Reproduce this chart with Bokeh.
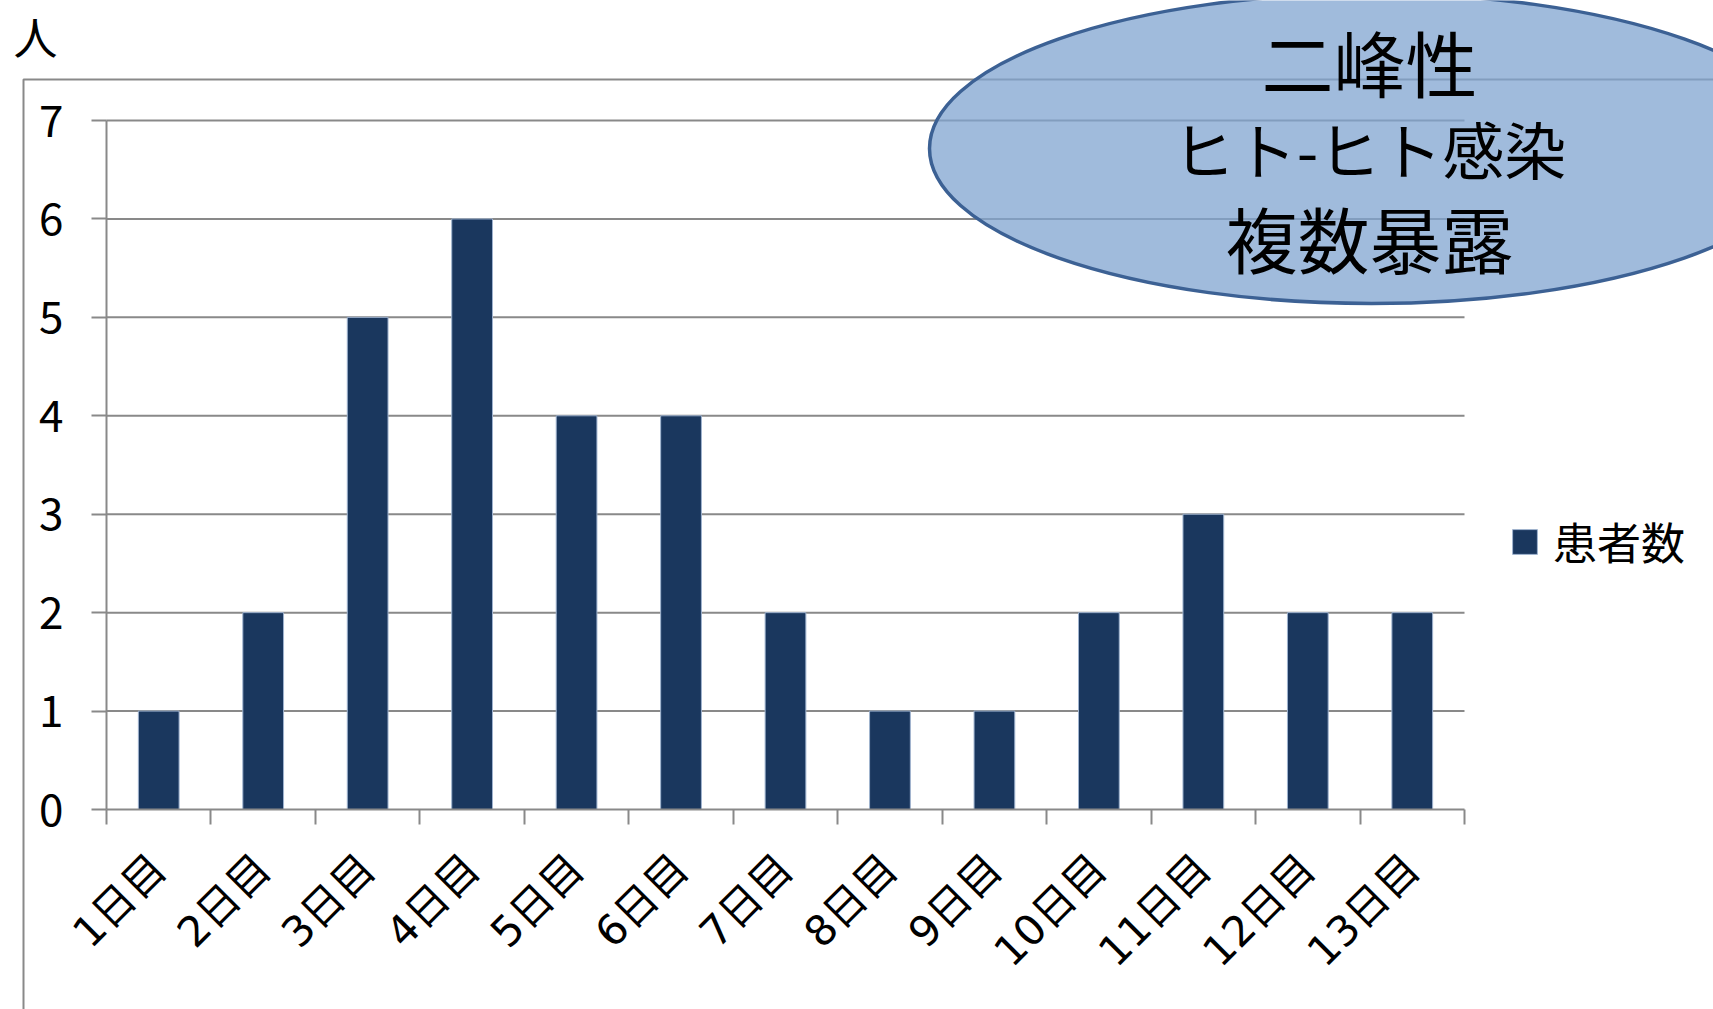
import math
from bokeh.plotting import figure
from bokeh.models import (Range1d, LinearAxis, FixedTicker, Label, Legend,
                          LegendItem, ColumnDataSource, Grid)
from bokeh.embed import file_html
from bokeh.resources import INLINE

# ---------------- data ----------------
categories = ["1日目", "2日目", "3日目", "4日目", "5日目", "6日目", "7日目",
              "8日目", "9日目", "10日目", "11日目", "12日目", "13日目"]
patients = [1, 2, 5, 6, 4, 4, 2, 1, 1, 2, 3, 2, 2]
y_ticks = [0, 1, 2, 3, 4, 5, 6, 7]
series_name = "患者数"
y_unit = "人"
note_lines = ["二峰性", "ヒト-ヒト感染", "複数暴露"]

# ---------------- layout (pixels) ----------------
W, H = 1713, 1009
X_LEFT, X_RIGHT = 106, 1464      # plot area horizontal extent
Y_ZERO, Y_TOP = 809, 120         # pixel rows of 0 and max tick
n = len(categories)
CW = (X_RIGHT - X_LEFT) / n
UH = (Y_ZERO - Y_TOP) / max(y_ticks)


def dx(px):
    return (px - X_LEFT) / CW


def dy(py):
    return (Y_ZERO - py) / UH


FONT = "Noto Sans CJK JP"
XFONT = "DejaVu Sans, Noto Sans CJK JP"
GRAY = "#898989"

p = figure(width=W, height=H,
           x_range=Range1d(dx(0), dx(W)), y_range=Range1d(dy(H), dy(0)),
           output_backend="svg", toolbar_location=None,
           x_axis_location=None, y_axis_location=None,
           min_border=0, outline_line_color=None,
           background_fill_color="white", border_fill_color="white")
for r in list(p.center):
    if isinstance(r, Grid):
        r.visible = False

# outer chart-area frame (runs off right and bottom edges)
p.line(x=[dx(W + 10), dx(23), dx(23)], y=[dy(79), dy(79), dy(H + 10)],
       line_color=GRAY, line_width=2)

# horizontal gridlines across the plot area
grid_vals = y_ticks[1:]
p.segment(x0=[0] * len(grid_vals), x1=[n] * len(grid_vals),
          y0=grid_vals, y1=grid_vals, line_color=GRAY, line_width=2)

# bars
centers = [i + 0.5 for i in range(n)]
src = ColumnDataSource(dict(x=centers, top=patients, label=categories))
bars = p.vbar(x="x", top="top", bottom=0, width=0.39, source=src,
              fill_color="#1A375E", line_color="#9FB3CF", line_width=1)

# x axis: labels at category centres, tick marks at boundaries
xaxis = LinearAxis(fixed_location=0, bounds=(0, n),
                   ticker=FixedTicker(ticks=centers, minor_ticks=list(range(n + 1))),
                   major_label_overrides={c: lab for c, lab in zip(centers, categories)},
                   major_label_orientation=math.pi / 4,
                   major_tick_out=0, major_tick_in=0,
                   minor_tick_out=15, minor_tick_in=0,
                   minor_tick_line_color=GRAY, minor_tick_line_width=2,
                   axis_line_color=GRAY, axis_line_width=2,
                   major_label_standoff=37,
                   major_label_text_font=XFONT,
                   major_label_text_font_size="42px",
                   major_label_text_color="black")
p.add_layout(xaxis, "below")

yaxis = LinearAxis(fixed_location=0, bounds=(0, max(y_ticks)),
                   ticker=FixedTicker(ticks=y_ticks, minor_ticks=[]),
                   major_tick_out=15, major_tick_in=0,
                   major_tick_line_color=GRAY, major_tick_line_width=2,
                   axis_line_color=GRAY, axis_line_width=2,
                   major_label_standoff=28,
                   major_label_text_font=FONT,
                   major_label_text_font_size="44px",
                   major_label_text_color="black")
p.add_layout(yaxis, "left")

# unit label
p.add_layout(Label(x=dx(35), y=dy(35), text=y_unit, text_font=FONT,
                   text_font_size="44px", text_align="center",
                   text_baseline="middle", text_color="black"))

# annotation ellipse with text
p.ellipse(x=[dx(1371)], y=[dy(148)], width=884, height=310,
          width_units="screen", height_units="screen",
          fill_color="#80A4D0", fill_alpha=0.75,
          line_color="#3C6194", line_width=3.5)
for line_txt, py, fs in zip(note_lines, [60, 147, 236], ["72px", "62px", "72px"]):
    p.add_layout(Label(x=dx(1369), y=dy(py), text=line_txt,
                       text_font=FONT, text_font_size=fs,
                       text_align="center", text_baseline="middle",
                       text_color="black"))

# legend
legend = Legend(items=[LegendItem(label=series_name, renderers=[bars])],
                location=(1509, 436), padding=0, margin=0, spacing=0,
                glyph_width=31, glyph_height=31, label_standoff=13,
                label_text_font=FONT, label_text_font_size="44px",
                label_text_color="black",
                border_line_color=None, background_fill_alpha=0)
p.add_layout(legend)

open("out.html", "w").write(file_html(p, INLINE))
